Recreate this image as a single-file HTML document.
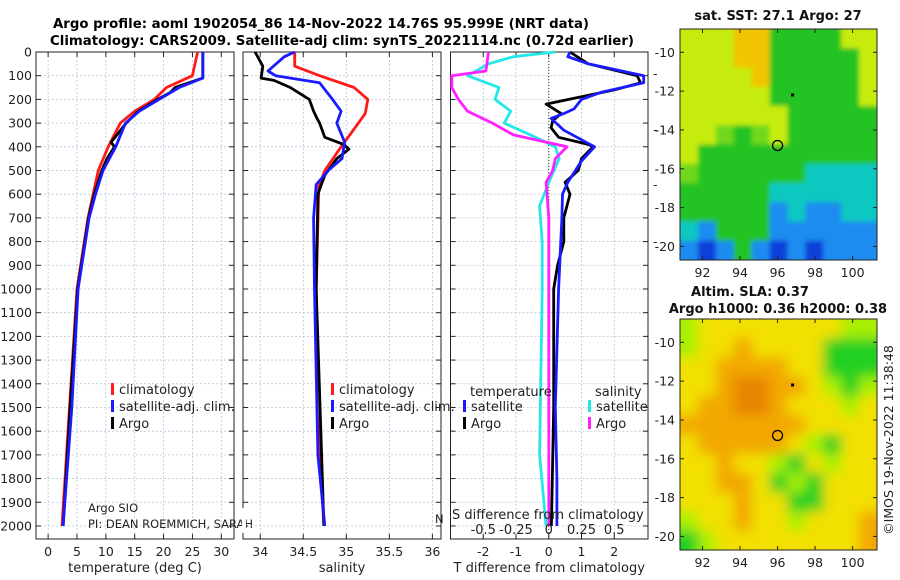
<!DOCTYPE html>
<html><head><meta charset="utf-8"><style>
html,body{margin:0;padding:0;background:#fff;}
svg{display:block;font-family:"DejaVu Sans","Liberation Sans",sans-serif;}
</style></head><body>
<svg id="fig" width="900" height="580" viewBox="0 0 900 580" xmlns="http://www.w3.org/2000/svg">
<defs>
<filter id="blurS" x="-5%" y="-5%" width="110%" height="110%"><feGaussianBlur stdDeviation="2.5"/></filter>
<filter id="blurL" x="-5%" y="-5%" width="110%" height="110%"><feGaussianBlur stdDeviation="6"/></filter>
<clipPath id="clipM1"><rect x="680" y="29" width="197" height="231"/></clipPath>
<clipPath id="clipM2"><rect x="680" y="319" width="197" height="231"/></clipPath>
</defs>
<rect width="900" height="580" fill="#fff"/>
<g font-weight="bold" font-size="13" text-anchor="middle">
<text x="321" y="28" textLength="536" lengthAdjust="spacingAndGlyphs">Argo profile: aoml 1902054_86 14-Nov-2022 14.76S 95.999E (NRT data)</text>
<text x="342" y="45" textLength="584" lengthAdjust="spacingAndGlyphs">Climatology: CARS2009. Satellite-adj clim: synTS_20221114.nc (0.72d earlier)</text>
</g>
<g id="maps"></g>
<g id="panels"></g>
</svg>
<script>
// ---------- profile data ----------
const tempDepths = [0,100,150,200,250,300,400,500,600,700,1000,1500,2000];
const tempClim   = [25.9,25.0,20.5,18.4,15.0,12.5,10.4,8.7,7.8,6.9,5.0,3.7,2.4];
const tempSatDepths = [0,110,150,200,250,300,400,500,600,700,1000,1500,2000];
const tempSat    = [26.8,26.8,22.7,19.2,15.8,13.4,11.7,9.5,8.2,7.1,5.2,4.1,2.6];
const tempArgoDepths = [0,110,150,170,200,250,300,360,380,400,450,500,600,700,1000,1500,2000];
const tempArgo   = [26.8,26.8,22.0,21.2,19.0,15.6,13.5,11.6,10.9,11.5,10.2,9.3,8.0,7.0,5.1,3.8,2.6];

const salClimDepths = [0,60,100,150,200,260,300,400,500,570,1000,1500,2000];
const salClim   = [34.40,34.40,34.69,35.09,35.25,35.22,35.14,34.94,34.75,34.68,34.65,34.66,34.74];
const salSatDepths = [0,20,80,100,130,200,250,300,380,450,500,560,700,1000,1700,2000];
const salSat    = [34.40,34.28,34.09,34.18,34.69,34.84,34.94,34.89,34.98,34.95,34.79,34.65,34.62,34.63,34.67,34.75];
const salArgoDepths = [0,60,110,120,150,200,250,280,300,360,390,410,450,520,600,1000,2000];
const salArgo   = [33.94,34.03,34.01,34.16,34.35,34.57,34.62,34.66,34.69,34.75,34.97,35.03,34.89,34.75,34.67,34.65,34.74];

const dTSatDepths = [0,20,50,100,130,170,200,240,260,280,330,400,460,550,600,700,1000,1500,1800,2000];
const dTSat  = [0.65,0.58,1.2,2.9,2.9,1.6,1.0,0.77,0.46,0.07,0.46,1.4,1.0,0.58,0.42,0.40,0.30,0.20,0.25,0.25];
const dTArgoDepths = [0,50,100,130,160,190,220,260,290,320,360,390,400,450,500,550,600,700,800,900,1000,1500,2000];
const dTArgo = [0.65,1.2,2.7,2.8,2.0,0.96,-0.08,0.38,0.12,0.07,0.3,1.2,1.35,1.0,0.9,0.5,0.65,0.46,0.46,0.27,0.15,0.15,0.08];
const dSSatDepths = [0,20,50,100,150,200,250,300,350,400,450,550,650,800,1000,1700,2000];
const dSSat  = [0.05,-0.27,-0.46,-0.62,-0.38,-0.41,-0.29,-0.34,-0.14,0.05,0.08,0,-0.07,-0.05,-0.05,-0.07,-0.02];
const dSArgoDepths = [0,80,100,150,200,250,300,350,380,400,450,500,550,700,1000,2000];
const dSArgo = [-0.46,-0.48,-0.74,-0.74,-0.69,-0.62,-0.43,-0.27,-0.02,0.14,0.05,0.03,-0.02,0,0,0];

const depthTicks = [0,100,200,300,400,500,600,700,800,900,1000,1100,1200,1300,1400,1500,1600,1700,1800,1900,2000];
const tempTicks = [0,5,10,15,20,25,30];
const salTicks = [34,34.5,35,35.5,36];
const dTTicks = [-2,-1,0,1,2];
const dSTicks = [-0.5,-0.25,0,0.25,0.5];

// ---------- map fields (coarse colour-class grids, rows north->south) ----------
const sstRows = [
"yyyOOGGGGyy","yyyOOGGGGGy","yyyyOGGGGGy","yyyyyGGGGGy","yyyyyyGGGGG","yygGgyGGGGG",
"yGGGGGGGGGG","gGGGGGGCCCC","GGGGGCCCCCC","GGGGGBCBBCC","CBGGGBBBBBB","BDBGBDBDBBB"];
const slaRows = [
"lyyyyyyyyll","lyyoyyyyGGG","yyooooyyGGG","yyoDDooylGl","yooDDoyyyly","oooooooyyyy",
"yoooooylGyy","yyoyylGylyy","yyooyGlGyyy","yyyoyyGGyyy","lyyoyylyyyo","Glyyyyyyyyo"];
const sstColors = {y:"#c6ec10",O:"#f2c400",G:"#22c322",g:"#6fd81a",C:"#10c8c0",B:"#1c8cf0",D:"#1040d8"};
const slaColors = {l:"#a8f000",y:"#f2e000",o:"#f2a800",D:"#e88400",G:"#22d022"};
const argoLon = 96.0, argoLat = -14.8;
const dotLon = 96.8, dotLat = -12.2;
const lonTicks = [92,94,96,98,100];
const latTicks = [-10,-12,-14,-16,-18,-20];

const NS = "http://www.w3.org/2000/svg";
function el(tag, attrs, parent, txt){const e=document.createElementNS(NS,tag);for(const k in attrs)e.setAttribute(k,attrs[k]);if(txt!==undefined)e.textContent=txt;parent.appendChild(e);return e;}

const top0=52, bot=539, dMin=0, dMax=2055;
const yD = d => top0 + (d-dMin)/(dMax-dMin)*(bot-top0);
const panels = document.getElementById('panels');

function mkPanel(name, x0, x1, vmin, vmax, ticks, tickFmt, xlabel){
  const g = el('g',{},panels);
  
  
  const xs = v => x0 + (v-vmin)/(vmax-vmin)*(x1-x0);
  ticks.forEach(t=>{el('line',{x1:xs(t),x2:xs(t),y1:top0,y2:bot,stroke:"#b8c4dc","stroke-width":0.8,"stroke-dasharray":"2,2"},g);});
  depthTicks.forEach(d=>{el('line',{x1:x0,x2:x1,y1:yD(d),y2:yD(d),stroke:"#b8c4dc","stroke-width":0.8,"stroke-dasharray":"2,2"},g);
    el('line',{x1:x0,x2:x0+5,y1:yD(d),y2:yD(d),stroke:"#222"},g);el('line',{x1:x1-5,x2:x1,y1:yD(d),y2:yD(d),stroke:"#222"},g);});
  ticks.forEach(t=>{el('line',{x1:xs(t),x2:xs(t),y1:bot,y2:bot-5,stroke:"#222"},g);el('line',{x1:xs(t),x2:xs(t),y1:top0,y2:top0+5,stroke:"#222"},g);
    const tl = el('text',{x:xs(t),y:556,"font-size":12.5,"text-anchor":"middle",fill:"#222"},g,tickFmt(t));
    
    });
  el('rect',{x:x0,y:top0,width:x1-x0,height:bot-top0,fill:"none",stroke:"#222","stroke-width":1},g);
  const xl = el('text',{x:(x0+x1)/2,y:572,"font-size":13,"text-anchor":"middle",fill:"#222"},g,xlabel);
  
  
  return {g,xs,x0,x1};
}
function series(p, depths, vals, color, name, conv){
  const pts = depths.map((d,i)=>(p.xs(conv?conv(vals[i]):vals[i])).toFixed(1)+","+yD(d).toFixed(1)).join(" ");
  const pl = el('polyline',{points:pts,fill:"none",stroke:color,"stroke-width":2.8,"stroke-linejoin":"round"},p.g);
  
  
}
function legendEntry(g,x,y,color,label){
  const e = el('g',{},g);
  
  
  el('rect',{x:x,y:y-9,width:3,height:12,fill:color},e);
  el('text',{x:x+8,y:y+2,"font-size":13,fill:"#222"},e,label);
}

const yl = el('g',{},panels);


depthTicks.forEach(d=>el('text',{x:32,y:yD(d)+4.5,"font-size":12.5,"text-anchor":"end",fill:"#222"},yl,String(d)));

const p1 = mkPanel('temperature-panel',36,234,-2.1,32.2,tempTicks,t=>String(t),'temperature (deg C)');
series(p1,tempDepths,tempClim,'#ff1a1a','temp-climatology-line');
series(p1,tempArgoDepths,tempArgo,'#000','temp-argo-line');
series(p1,tempSatDepths,tempSat,'#1a1aff','temp-satellite-line');
legendEntry(p1.g,111,392,'#ff1a1a','climatology');
legendEntry(p1.g,111,409,'#1a1aff','satellite-adj. clim.');
legendEntry(p1.g,111,426,'#000','Argo');
el('text',{x:88,y:512,"font-size":11.5,fill:"#222"},p1.g,'Argo SIO');
el('text',{x:88,y:528,"font-size":11.5,fill:"#222"},p1.g,'PI: DEAN ROEMMICH, SARAH');

const p2 = mkPanel('salinity-panel',243,441,33.80,36.10,salTicks,t=>String(t),'salinity');
series(p2,salClimDepths,salClim,'#ff1a1a','sal-climatology-line');
series(p2,salArgoDepths,salArgo,'#000','sal-argo-line');
series(p2,salSatDepths,salSat,'#1a1aff','sal-satellite-line');
legendEntry(p2.g,331,392,'#ff1a1a','climatology');
legendEntry(p2.g,331,409,'#1a1aff','satellite-adj. clim.');
legendEntry(p2.g,331,426,'#000','Argo');
el('rect',{x:242,y:508,width:4,height:25,fill:"#fff"},p2.g);
el('text',{x:435,y:523,"font-size":11.5,fill:"#222"},p2.g,'N');

const p3 = mkPanel('difference-panel',450.5,648,-3.0,3.03,dTTicks,t=>String(t),'T difference from climatology');
el('line',{x1:p3.xs(0),x2:p3.xs(0),y1:top0,y2:bot,stroke:"#333","stroke-width":1,"stroke-dasharray":"1,2"},p3.g);
const sConv = s => s*4;
series(p3,dSSatDepths,dSSat,'#22e8e8','sal-diff-satellite-line',sConv);
series(p3,dSArgoDepths,dSArgo,'#ff22ff','sal-diff-argo-line',sConv);
series(p3,dTArgoDepths,dTArgo,'#000','temp-diff-argo-line');
series(p3,dTSatDepths,dTSat,'#1a1aff','temp-diff-satellite-line');
el('text',{x:470,y:396,"font-size":13,fill:"#222"},p3.g,'temperature');
el('text',{x:595,y:396,"font-size":13,fill:"#222"},p3.g,'salinity');
legendEntry(p3.g,463,409,'#1a1aff','satellite');
legendEntry(p3.g,463,426,'#000','Argo');
legendEntry(p3.g,588,409,'#22e8e8','satellite');
legendEntry(p3.g,588,426,'#ff22ff','Argo');
el('text',{x:452,y:519,"font-size":13,fill:"#222"},p3.g,'S difference from climatology');
dSTicks.forEach(s=>{const t=el('text',{x:p3.xs(sConv(s)),y:534,"font-size":13,"text-anchor":"middle",fill:"#222"},p3.g,String(s));
  
  });
[78,134,189,246].forEach(y=>el('text',{x:653,y:y,"font-size":12.5,fill:"#222"},p3.g,'-'));

// ---------- maps ----------
const maps = document.getElementById('maps');
function mkMap(name, x0,y0,x1,y1, rows, colors, lonRange, latRange, clipId, filt){
  const g = el('g',{},maps);
  
  
  const lx = v => x0 + (v-lonRange[0])/(lonRange[1]-lonRange[0])*(x1-x0);
  const ly = v => y0 + (latRange[0]-v)/(latRange[0]-latRange[1])*(y1-y0);
  const nr = rows.length, nc = rows[0].length;
  const cw=(x1-x0)/nc, ch=(y1-y0)/nr;
  const cg = el('g',{"clip-path":"url(#"+clipId+")"},g);
  const fg = el('g',{filter:"url(#"+filt+")"},cg);
  rows.forEach((r,i)=>{for(let j=0;j<nc;j++){
    const xx = x0+j*cw - (j===0?12:0), yy = y0+i*ch - (i===0?12:0);
    const ww = cw+0.6 + (j===0?12:0) + (j===nc-1?12:0), hh = ch+0.6 + (i===0?12:0) + (i===nr-1?12:0);
    el('rect',{x:xx,y:yy,width:ww,height:hh,fill:colors[r[j]]},fg);}});
  el('rect',{x:x0,y:y0,width:x1-x0,height:y1-y0,fill:"none",stroke:"#222"},g);
  lonTicks.forEach(t=>{el('line',{x1:lx(t),x2:lx(t),y1:y1,y2:y1-4,stroke:"#222"},g);el('line',{x1:lx(t),x2:lx(t),y1:y0,y2:y0+4,stroke:"#222"},g);
    el('text',{x:lx(t),y:y1+17,"font-size":12.5,"text-anchor":"middle",fill:"#222"},g,String(t));});
  latTicks.forEach(t=>{el('line',{x1:x0,x2:x0+4,y1:ly(t),y2:ly(t),stroke:"#222"},g);el('line',{x1:x1,x2:x1-4,y1:ly(t),y2:ly(t),stroke:"#222"},g);
    el('text',{x:x0-5,y:ly(t)+4.5,"font-size":12.5,"text-anchor":"end",fill:"#222"},g,String(t));});
  const c = el('circle',{cx:lx(argoLon),cy:ly(argoLat),r:5,fill:"none",stroke:"#000","stroke-width":1.3},g);
  
  
  el('rect',{x:lx(dotLon)-1.5,y:ly(dotLat)-1.5,width:3,height:3,fill:"#000"},g);
  return g;
}
const m1 = mkMap('sst-map',680,29,877,260,sstRows,sstColors,[90.8,101.3],[-8.8,-20.7],'clipM1','blurS');
el('text',{x:778,y:20,"font-size":13,"font-weight":"bold","text-anchor":"middle",fill:"#111"},m1,'sat. SST: 27.1 Argo: 27');
const m2 = mkMap('sla-map',680,319,877,550,slaRows,slaColors,[90.8,101.3],[-8.8,-20.7],'clipM2','blurL');
el('text',{x:750,y:296,"font-size":13,"font-weight":"bold","text-anchor":"middle",fill:"#111"},m2,'Altim. SLA: 0.37');
el('text',{x:778,y:313,"font-size":13,"font-weight":"bold","text-anchor":"middle",fill:"#111"},m2,'Argo h1000: 0.36 h2000: 0.38');
const cr = el('text',{x:0,y:0,"font-size":12.5,"text-anchor":"middle",fill:"#222",transform:"translate(893,440) rotate(-90)"},maps,'©IMOS 19-Nov-2022 11:38:48');


</script>
</body></html>
